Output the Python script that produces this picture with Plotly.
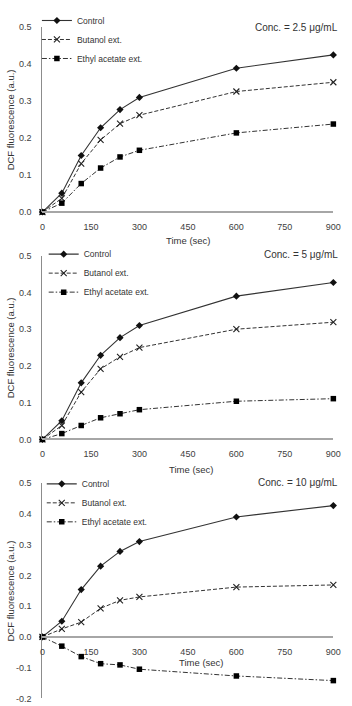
import plotly.graph_objects as go

W, H = 352, 706

time_s = [0, 60, 120, 180, 240, 300, 600, 900]

control_25 = [0.0, 0.051, 0.153, 0.228, 0.277, 0.310, 0.389, 0.425]
butanol_25 = [0.0, 0.037, 0.131, 0.195, 0.239, 0.262, 0.326, 0.351]
ethyl_25 = [0.0, 0.024, 0.077, 0.119, 0.149, 0.167, 0.214, 0.238]

control_5 = [0.0, 0.051, 0.154, 0.229, 0.277, 0.310, 0.390, 0.427]
butanol_5 = [0.0, 0.038, 0.129, 0.192, 0.225, 0.250, 0.300, 0.319]
ethyl_5 = [0.0, 0.016, 0.038, 0.059, 0.070, 0.081, 0.104, 0.111]

control_10 = [0.0, 0.051, 0.154, 0.230, 0.278, 0.310, 0.390, 0.427]
butanol_10 = [0.0, 0.026, 0.048, 0.093, 0.119, 0.130, 0.162, 0.169]
ethyl_10 = [0.0, -0.030, -0.064, -0.087, -0.091, -0.105, -0.127, -0.142]

series_names = ["Control", "Butanol ext.", "Ethyl acetate ext."]
panel_titles = ["Conc. = 2.5 μg/mL", "Conc. = 5 μg/mL", "Conc. = 10 μg/mL"]
x_ticks = [0, 150, 300, 450, 600, 750, 900]
y_ticks_a = [0.0, 0.1, 0.2, 0.3, 0.4, 0.5]
y_ticks_b = [-0.2, -0.1, 0.0, 0.1, 0.2, 0.3, 0.4, 0.5]
x_title = "Time (sec)"
y_title = "DCF fluorescence (a.u.)"

panels = [
    [control_25, butanol_25, ethyl_25],
    [control_5, butanol_5, ethyl_5],
    [control_10, butanol_10, ethyl_10],
]

# pixel geometry
x0_px, x1_px = 40.7, 341.0
panel_px = [(22.5, 210.0, 0.5, 0.0), (254.3, 440.7, 0.5, 0.0), (485.0, 703.4, 0.5, -0.2)]


def py(p):
    return 1 - p / H


def px(p):
    return p / W


LINE = "#333333"
styles = [
    dict(line=dict(color=LINE, width=1.1, dash="solid"),
         marker=dict(symbol="diamond", size=5.5, color="#111111")),
    dict(line=dict(color=LINE, width=1.0, dash="4px,2px"),
         marker=dict(symbol="x-thin", size=6, color="#111111", line=dict(color="#222222", width=1.1))),
    dict(line=dict(color=LINE, width=1.0, dash="5px,2px,1.5px,2px"),
         marker=dict(symbol="square", size=5.5, color="#000000")),
]

fig = go.Figure()
legend_names = ["legend", "legend2", "legend3"]
font_fam = "Liberation Sans, Arial, sans-serif"

for i, series in enumerate(panels):
    xa = "x" if i == 0 else f"x{i+1}"
    ya = "y" if i == 0 else f"y{i+1}"
    for j, vals in enumerate(series):
        fig.add_trace(go.Scatter(
            x=time_s, y=vals, name=series_names[j], mode="lines+markers",
            xaxis=xa, yaxis=ya, legend=legend_names[i], cliponaxis=False,
            **styles[j]))

annotations = []
layout = dict(
    width=W, height=H, margin=dict(l=0, r=0, t=0, b=0),
    paper_bgcolor="white", plot_bgcolor="white",
    font=dict(family=font_fam, size=9, color="#333333"),
)

for i in range(3):
    top, bot, ymax, ymin = panel_px[i]
    dom_y = [py(bot), py(top)]
    xk = "xaxis" if i == 0 else f"xaxis{i+1}"
    yk = "yaxis" if i == 0 else f"yaxis{i+1}"
    xref = "x" if i == 0 else f"x{i+1}"
    yt = y_ticks_a if ymin == 0 else y_ticks_b
    zero_pos = dom_y[0] + (0 - ymin) / (ymax - ymin) * (dom_y[1] - dom_y[0])
    layout[xk] = dict(
        domain=[px(x0_px), px(x1_px)], range=[0, 900], anchor="free", position=zero_pos,
        tickvals=x_ticks, ticktext=[str(v) for v in x_ticks],
        showline=True, linecolor="#a6a6a6", linewidth=2, showgrid=False, zeroline=False,
        ticks="", ticklabelstandoff=6, tickfont=dict(size=9, color="#404040"),
    )
    layout[yk] = dict(
        domain=dom_y, range=[ymin, ymax], anchor=xref,
        tickvals=yt, ticktext=[f"{v:.1f}" for v in yt],
        showline=True, linecolor="#8c8c8c", linewidth=1.3, showgrid=False, zeroline=False,
        ticks="", ticklabelstandoff=8, tickfont=dict(size=9, color="#404040"),
    )
    # y title
    annotations.append(dict(
        text=y_title, xref="paper", yref="paper", x=px(8), y=(dom_y[0] + dom_y[1]) / 2,
        textangle=-90, showarrow=False, font=dict(size=9.5, color="#333333"),
        xanchor="center", yanchor="middle"))
    # x title
    xt_y = [239, 471, 667][i]
    xt_x = [191, 195, 205][i]
    annotations.append(dict(
        text=x_title, xref="paper", yref="paper", x=px(xt_x), y=py(xt_y),
        showarrow=False, font=dict(size=9.5, color="#333333"),
        xanchor="center", yanchor="middle"))
    # conc label
    annotations.append(dict(
        text=panel_titles[i], xref="paper", yref="paper", x=px(348), y=py([22.7, 253, 484][i]),
        showarrow=False, font=dict(size=10, color="#333333"),
        xanchor="right", yanchor="middle"))
    lk = legend_names[i]
    layout[lk] = dict(
        x=px([35, 42, 40][i]), y=py([1, 238, 471][i]), xanchor="left", yanchor="top",
        bgcolor="rgba(0,0,0,0)", borderwidth=0, font=dict(size=8.5, color="#333333"),
        itemwidth=30, tracegroupgap=0,
    )

layout["annotations"] = annotations
layout["showlegend"] = True
fig.update_layout(**layout)

fig.write_html("out.html")
